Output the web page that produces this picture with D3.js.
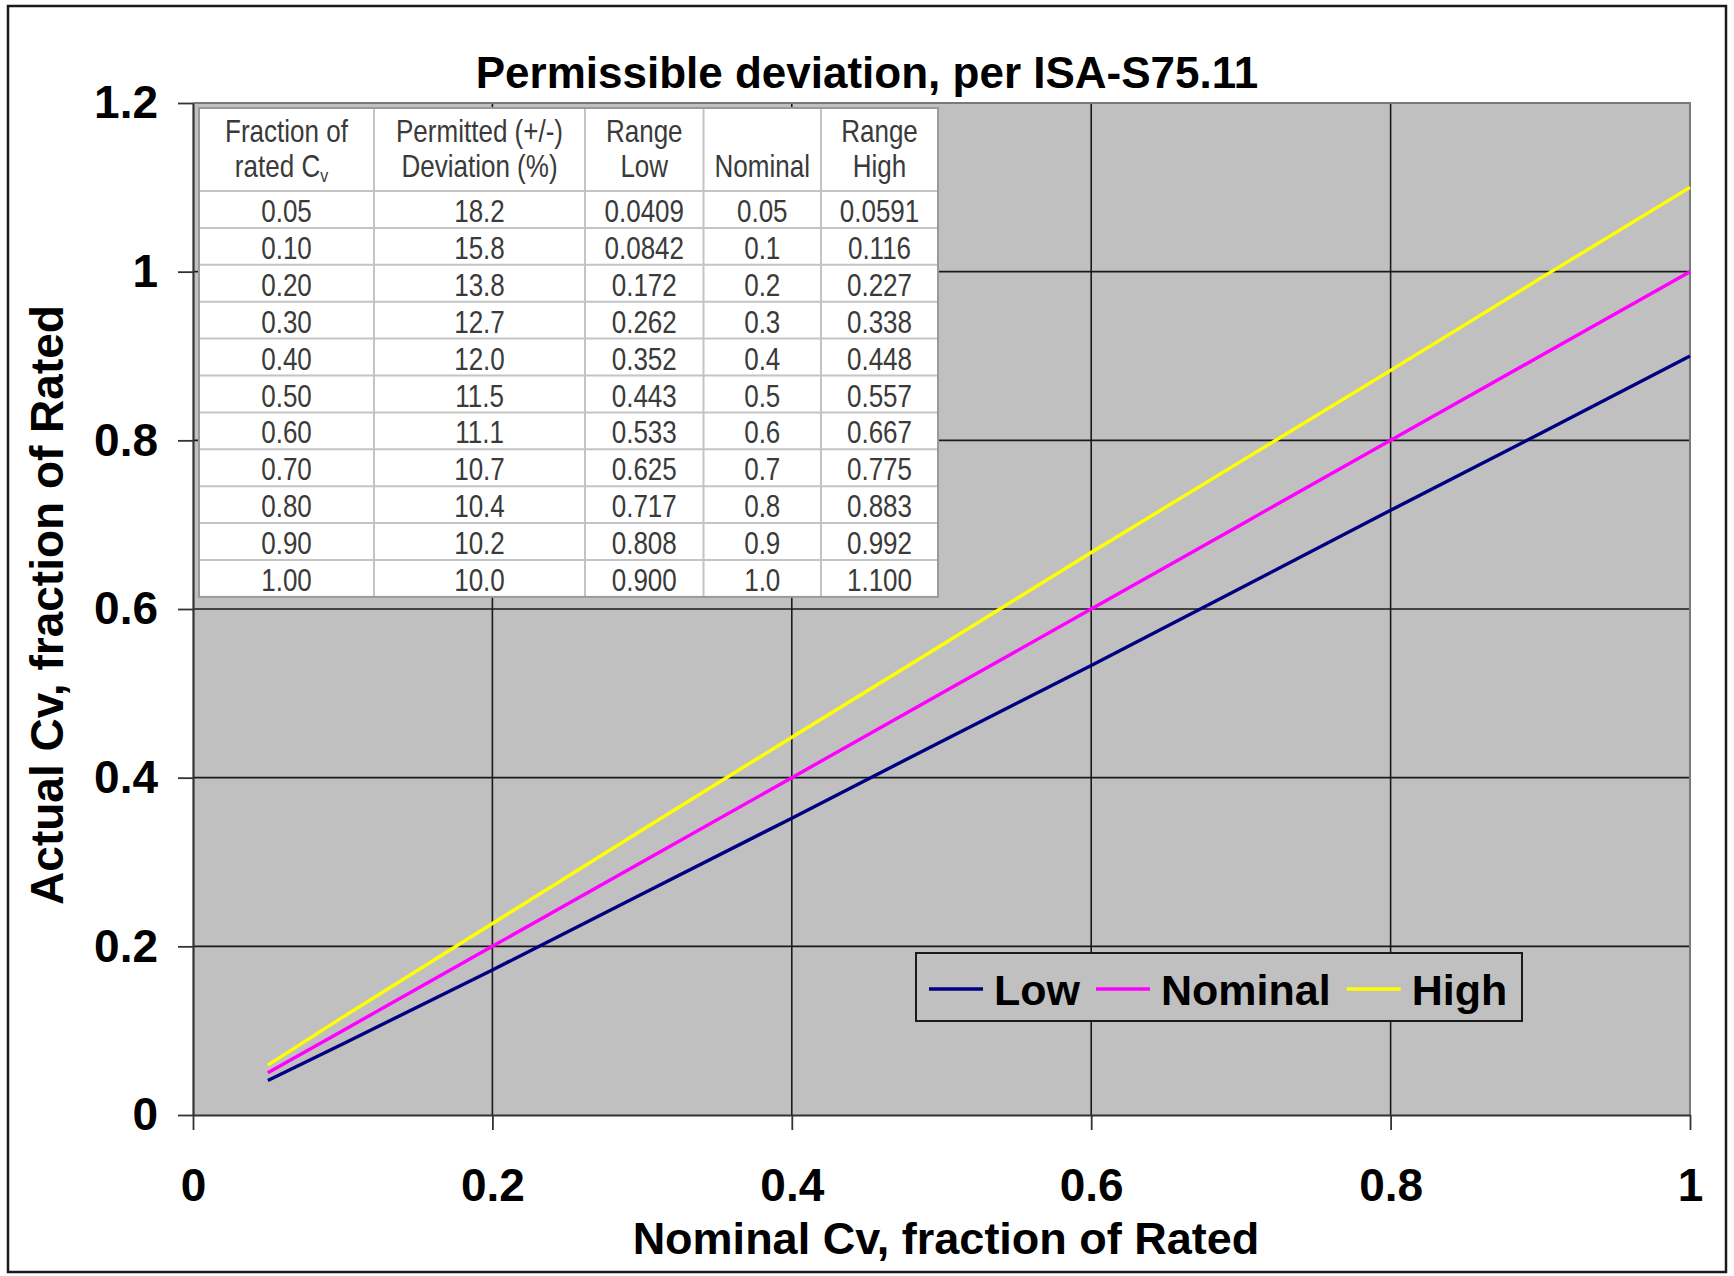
<!DOCTYPE html>
<html>
<head>
<meta charset="utf-8">
<script src="https://cdn.jsdelivr.net/npm/d3@7/dist/d3.min.js"></script>
<style>
body { margin: 0; background: #fff; }
text { font-family: "Liberation Sans", Arial, Helvetica, sans-serif; }
</style>
</head>
<body>
<svg id="vis" width="1734" height="1276"></svg>
<script>

// table / series values
var fractionText = ["0.05", "0.10", "0.20", "0.30", "0.40", "0.50", "0.60", "0.70", "0.80", "0.90", "1.00"];
var deviationText = ["18.2", "15.8", "13.8", "12.7", "12.0", "11.5", "11.1", "10.7", "10.4", "10.2", "10.0"];
var lowText = ["0.0409", "0.0842", "0.172", "0.262", "0.352", "0.443", "0.533", "0.625", "0.717", "0.808", "0.900"];
var nominalText = ["0.05", "0.1", "0.2", "0.3", "0.4", "0.5", "0.6", "0.7", "0.8", "0.9", "1.0"];
var highText = ["0.0591", "0.116", "0.227", "0.338", "0.448", "0.557", "0.667", "0.775", "0.883", "0.992", "1.100"];

var headerText = [["Fraction of", "rated C"], ["Permitted (+/-)", "Deviation (%)"], ["Range", "Low"], ["", "Nominal"], ["Range", "High"]];

var seriesNames = ["Low", "Nominal", "High"];
var seriesColors = ["#000080", "#ff00ff", "#ffff00"];

var xTicks = [0, 0.2, 0.4, 0.6, 0.8, 1];
var yTicks = [0, 0.2, 0.4, 0.6, 0.8, 1, 1.2];

var titleText = "Permissible deviation, per ISA-S75.11";
var xTitle = "Nominal Cv, fraction of Rated";
var yTitle = "Actual Cv, fraction of Rated";

// layout
var plotLeft = 193, plotRight = 1690, plotTop = 103, plotBottom = 1115;
var tableCols = [199, 374, 585, 703.5, 821, 938];
var tableTop = 108, headerBottom = 191, rowH = 36.9;

var xs = nominalText.map(Number);
var series = [lowText, nominalText, highText].map(function (col, i) {
	return {
		name: seriesNames[i],
		color: seriesColors[i],
		values: col.map(function (v, j) { return { x: xs[j], y: +v }; })
	};
});

var x = d3.scaleLinear().domain([0, 1]).range([plotLeft, plotRight]);
var y = d3.scaleLinear().domain([0, 1.2]).range([plotBottom, plotTop]);

var svg = d3.select('#vis');

svg.append('rect')
	.attr('x', 8).attr('y', 6)
	.attr('width', 1718).attr('height', 1266)
	.attr('fill', '#fff')
	.attr('stroke', '#1a1a1a')
	.attr('stroke-width', 2.5);

svg.append('rect')
	.attr('x', plotLeft).attr('y', plotTop)
	.attr('width', plotRight - plotLeft).attr('height', plotBottom - plotTop)
	.attr('fill', '#c0c0c0');

// grid
svg.append('g').selectAll('line')
	.data(yTicks.filter(function (d) { return d > 0 && d < 1.2; }))
	.enter().append('line')
	.attr('x1', plotLeft).attr('x2', plotRight)
	.attr('y1', function (d) { return y(d); })
	.attr('y2', function (d) { return y(d); })
	.attr('stroke', '#1a1a1a').attr('stroke-width', 1.6);

svg.append('g').selectAll('line')
	.data(xTicks.filter(function (d) { return d > 0 && d < 1; }))
	.enter().append('line')
	.attr('x1', function (d) { return x(d); })
	.attr('x2', function (d) { return x(d); })
	.attr('y1', plotTop).attr('y2', plotBottom)
	.attr('stroke', '#1a1a1a').attr('stroke-width', 1.6);

// plot border top/right
svg.append('path')
	.attr('d', 'M' + plotLeft + ',' + plotTop + 'H' + plotRight + 'V' + plotBottom)
	.attr('fill', 'none')
	.attr('stroke', '#7a7a7a')
	.attr('stroke-width', 2);

// axes
var xAxis = svg.append('g')
	.attr('transform', 'translate(0,' + plotBottom + ')')
	.call(d3.axisBottom(x).tickValues(xTicks).tickSize(15).tickSizeOuter(0).tickPadding(38).tickFormat(d3.format('')));

var yAxis = svg.append('g')
	.attr('transform', 'translate(' + plotLeft + ',0)')
	.call(d3.axisLeft(y).tickValues(yTicks).tickSize(15).tickSizeOuter(0).tickPadding(20).tickFormat(d3.format('')));

[xAxis, yAxis].forEach(function (g) {
	g.select('.domain').attr('stroke', '#333').attr('stroke-width', 2.2);
	g.selectAll('.tick line').attr('stroke', '#333').attr('stroke-width', 1.8);
	g.selectAll('.tick text')
		.attr('fill', '#000')
		.style('font-size', '46px')
		.style('font-weight', 'bold')
		.style('font-family', '"Liberation Sans", Arial, sans-serif');
});

// table
var table = svg.append('g');
var tableBottom = headerBottom + rowH * fractionText.length;

table.append('rect')
	.attr('x', tableCols[0]).attr('y', tableTop)
	.attr('width', tableCols[5] - tableCols[0])
	.attr('height', tableBottom - tableTop)
	.attr('fill', '#fff');

var hLines = [headerBottom].concat(fractionText.map(function (d, i) { return headerBottom + rowH * (i + 1); }));
table.selectAll('.hl')
	.data(hLines.slice(0, -1))
	.enter().append('line')
	.attr('class', 'hl')
	.attr('x1', tableCols[0]).attr('x2', tableCols[5])
	.attr('y1', function (d) { return d; })
	.attr('y2', function (d) { return d; })
	.attr('stroke', '#c4c4c4').attr('stroke-width', 2);

table.selectAll('.vl')
	.data(tableCols.slice(1, -1))
	.enter().append('line')
	.attr('class', 'vl')
	.attr('x1', function (d) { return d; })
	.attr('x2', function (d) { return d; })
	.attr('y1', tableTop).attr('y2', tableBottom)
	.attr('stroke', '#c4c4c4').attr('stroke-width', 2);

table.append('rect')
	.attr('x', tableCols[0]).attr('y', tableTop)
	.attr('width', tableCols[5] - tableCols[0])
	.attr('height', tableBottom - tableTop)
	.attr('fill', 'none')
	.attr('stroke', '#9a9a9a')
	.attr('stroke-width', 2);

function cellText(cx, by, str) {
	return table.append('text')
		.attr('transform', 'translate(' + cx + ',' + by + ') scale(0.84,1)')
		.attr('text-anchor', 'middle')
		.attr('fill', '#3a3a3a')
		.style('font-size', '31px')
		.text(str);
}

headerText.forEach(function (lines, c) {
	var cx = (tableCols[c] + tableCols[c + 1]) / 2;
	if (lines[0]) cellText(cx, 142, lines[0]);
	var t = cellText(cx, 177, lines[1]);
	if (c === 0) {
		t.attr('transform', 'translate(' + (cx - 5) + ',177) scale(0.84,1)');
		t.append('tspan').attr('dy', 5).style('font-size', '19px').text('v');
	}
});

var columns = [fractionText, deviationText, lowText, nominalText, highText];
columns.forEach(function (col, c) {
	var cx = (tableCols[c] + tableCols[c + 1]) / 2;
	col.forEach(function (v, r) {
		cellText(cx, headerBottom + rowH * r + 31, v);
	});
});

// series
var line = d3.line()
	.x(function (d) { return x(d.x); })
	.y(function (d) { return y(d.y); });

svg.append('g').selectAll('path')
	.data(series)
	.enter().append('path')
	.attr('d', function (d) { return line(d.values); })
	.attr('fill', 'none')
	.attr('stroke', function (d) { return d.color; })
	.attr('stroke-width', 3.4);

// legend
var legend = svg.append('g');
legend.append('rect')
	.attr('x', 916).attr('y', 953)
	.attr('width', 606).attr('height', 68)
	.attr('fill', '#c0c0c0')
	.attr('stroke', '#1a1a1a')
	.attr('stroke-width', 2);

var lx = 929;
series.forEach(function (s) {
	legend.append('line')
		.attr('x1', lx).attr('x2', lx + 54)
		.attr('y1', 989).attr('y2', 989)
		.attr('stroke', s.color).attr('stroke-width', 3.4);
	var t = legend.append('text')
		.attr('x', lx + 65).attr('y', 1005)
		.style('font-size', '43px')
		.style('font-weight', 'bold')
		.text(s.name);
	lx = lx + 65 + t.node().getComputedTextLength() + 16;
});

// titles
svg.append('text')
	.attr('x', 867).attr('y', 88)
	.attr('text-anchor', 'middle')
	.style('font-size', '44px').style('font-weight', 'bold')
	.text(titleText);

svg.append('text')
	.attr('x', 946).attr('y', 1254)
	.attr('text-anchor', 'middle')
	.style('font-size', '45px').style('font-weight', 'bold')
	.text(xTitle);

svg.append('text')
	.attr('transform', 'translate(63,605) rotate(-90)')
	.attr('text-anchor', 'middle')
	.style('font-size', '46px').style('font-weight', 'bold')
	.text(yTitle);

</script>
</body>
</html>
